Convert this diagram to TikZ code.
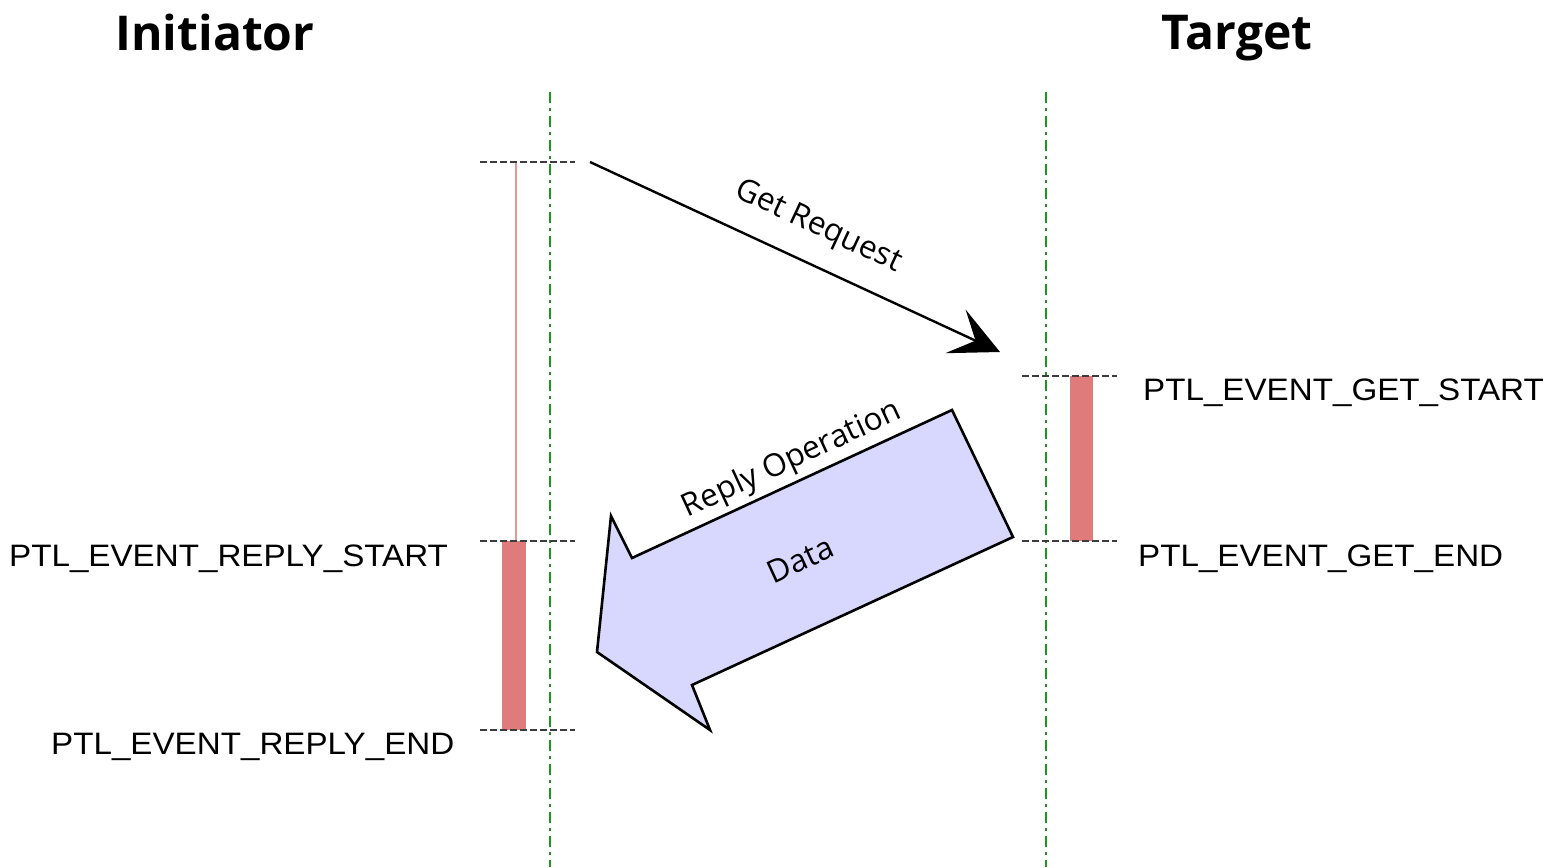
\documentclass[tikz,border=0pt]{standalone}
\usepackage{fontspec}
\setmainfont{Liberation Sans}
\newfontfamily\osfont{Open Sans}
\usetikzlibrary{arrows.meta}
\definecolor{lifegreen}{RGB}{30,150,30}
\definecolor{actred}{RGB}{224,123,123}
\definecolor{thinred}{RGB}{232,150,150}
\definecolor{blockfill}{RGB}{216,216,255}
\definecolor{dashgray}{RGB}{60,60,60}
\tikzset{
  lifeline/.style={draw=lifegreen, line width=2.8pt, dash pattern=on 11pt off 5pt on 3pt off 5pt},
  markline/.style={draw=dashgray, line width=2.4pt, dash pattern=on 7pt off 3pt},
  title/.style={font=\osfont\bfseries\fontsize{48}{50}\selectfont},
  evlabel/.style={font=\fontsize{31}{33}\selectfont, anchor=base west, inner sep=0pt},
  msglabel/.style={font=\osfont\fontsize{31.5}{33}\selectfont, inner sep=0pt},
}
\newcommand{\evtext}[1]{\scalebox{1.07}[1]{#1}}
\begin{document}
\begin{tikzpicture}[x=1pt, y=-1pt]
\useasboundingbox (0,0) rectangle (1557,867);
% titles
\node[title] (tinit) at (215,33) {Initiator};
\node[title] (ttarg) at (1237,38) {Target};
% lifelines
\coordinate (iltop) at (550,92); \coordinate (ilbot) at (550,867);
\coordinate (tltop) at (1046,92); \coordinate (tlbot) at (1046,867);
% activation bars
\fill[actred] (502,541) rectangle (526,730);
\fill[actred] (1070,376) rectangle (1093,541);
\draw[thinred, line width=2.4pt] (516,162) -- (516,541);
\draw[lifeline] (iltop) -- (ilbot);
\draw[lifeline] (tltop) -- (tlbot);
% marker lines
\coordinate (m1a) at (480,162); \coordinate (m1b) at (575,162);
\coordinate (m2a) at (480,541); \coordinate (m2b) at (575,541);
\coordinate (m3a) at (480,730); \coordinate (m3b) at (575,730);
\coordinate (m4a) at (1022,376); \coordinate (m4b) at (1117,376);
\coordinate (m5a) at (1022,541); \coordinate (m5b) at (1117,541);
\draw[markline] (m1a) -- (m1b);
\draw[markline] (m2a) -- (m2b);
\draw[markline] (m3a) -- (m3b);
\draw[markline] (m4a) -- (m4b);
\draw[markline] (m5a) -- (m5b);
% get request arrow
\coordinate (gs) at (590,162); \coordinate (ge) at (1000,352);
\draw[line width=2.4pt, -{Stealth[length=49pt, width=48pt, inset=22pt]}] (gs) -- (ge);
\node[msglabel, rotate=-24.9] (glab) at (818,227) {Get Request};
% reply block arrow
\draw[fill=blockfill, line width=2.6pt, line join=miter]
  (952,410) -- (1013,537) -- (692,685) -- (710,730) -- (597,652) -- (611,516) -- (632,558) -- cycle;
\node[msglabel, rotate=24.8] (rlab) at (792,460) {Reply Operation};
\node[msglabel, rotate=24.8] (dlab) at (800,560) {Data};
% event labels
\node[evlabel] (e1) at (1143,400) {\evtext{PTL\_EVENT\_GET\_START}};
\node[evlabel] (e2) at (1138,566) {\evtext{PTL\_EVENT\_GET\_END}};
\node[evlabel] (e3) at (9,566) {\evtext{PTL\_EVENT\_REPLY\_START}};
\node[evlabel] (e4) at (51,754) {\evtext{PTL\_EVENT\_REPLY\_END}};
\end{tikzpicture}
\end{document}
